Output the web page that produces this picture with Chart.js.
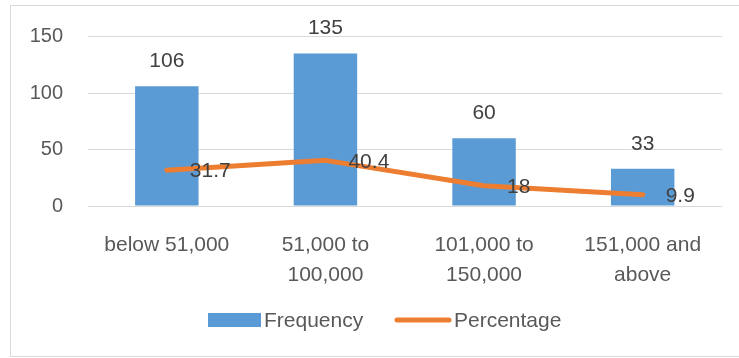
<!DOCTYPE html>
<html>
<head>
<meta charset="utf-8">
<script src="https://cdn.jsdelivr.net/npm/chart.js@4/dist/chart.umd.min.js"></script>
<style>
  html, body { margin: 0; padding: 0; background: #ffffff; }
  #wrap { position: relative; width: 739px; height: 358px; }
</style>
</head>
<body>
<div id="wrap"><canvas id="c" width="739" height="358"></canvas></div>
<script>
// Income brackets and the two series
const categories = [
  ["below 51,000"],
  ["51,000 to", "100,000"],
  ["101,000 to", "150,000"],
  ["151,000 and", "above"]
];
const frequency = [106, 135, 60, 33];
const percentage = [31.7, 40.4, 18, 9.9];
const yTicks = [0, 50, 100, 150];

const FONT = '"Liberation Sans", Arial, sans-serif';
const BLUE = '#5B9BD5';
const ORANGE = '#ED7D31';
const AXIS_TEXT = '#595959';
const LABEL_TEXT = '#404040';
const GRID = '#D9D9D9';

// Value labels: above each bar, to the right of each line point
const valueLabels = {
  id: 'valueLabels',
  afterDatasetsDraw(chart) {
    const ctx = chart.ctx;
    ctx.save();
    ctx.font = '21px ' + FONT;
    ctx.fillStyle = LABEL_TEXT;
    ctx.textBaseline = 'middle';
    chart.data.datasets.forEach((ds, di) => {
      const meta = chart.getDatasetMeta(di);
      meta.data.forEach((el, i) => {
        const text = String(ds.data[i]);
        if (ds.type === 'bar') {
          ctx.textAlign = 'center';
          ctx.fillText(text, el.x, el.y - 25);
        } else {
          ctx.textAlign = 'left';
          ctx.fillText(text, el.x + 23, el.y + 1.5);
        }
      });
    });
    ctx.restore();
  }
};

// Outer frame and legend row
const frameAndLegend = {
  id: 'frameAndLegend',
  beforeDraw(chart) {
    const ctx = chart.ctx;
    ctx.save();
    ctx.strokeStyle = GRID;
    ctx.lineWidth = 1;
    ctx.strokeRect(10.5, 5.5, 760, 351);
    ctx.restore();
  },
  afterDraw(chart) {
    const ctx = chart.ctx;
    const ds = chart.data.datasets;
    const cy = 320;
    ctx.save();
    ctx.font = '21px ' + FONT;
    ctx.textBaseline = 'middle';
    ctx.textAlign = 'left';
    // bar swatch
    ctx.fillStyle = BLUE;
    ctx.fillRect(208, cy - 7, 53, 14);
    ctx.fillStyle = AXIS_TEXT;
    ctx.fillText(ds[0].label, 264, cy + 1);
    // line swatch
    ctx.strokeStyle = ORANGE;
    ctx.lineWidth = 5;
    ctx.lineCap = 'round';
    ctx.beginPath();
    ctx.moveTo(397, cy);
    ctx.lineTo(449, cy);
    ctx.stroke();
    ctx.fillText(ds[1].label, 454, cy + 1);
    ctx.restore();
  }
};

new Chart(document.getElementById('c'), {
  data: {
    labels: categories,
    datasets: [
      {
        type: 'bar',
        label: 'Frequency',
        data: frequency,
        backgroundColor: BLUE,
        borderWidth: 0,
        barPercentage: 0.4,
        categoryPercentage: 1.0,
        order: 1
      },
      {
        type: 'line',
        label: 'Percentage',
        data: percentage,
        borderColor: ORANGE,
        backgroundColor: ORANGE,
        borderWidth: 5,
        borderCapStyle: 'round',
        borderJoinStyle: 'round',
        pointRadius: 0,
        tension: 0,
        order: 0
      }
    ]
  },
  options: {
    responsive: false,
    animation: false,
    layout: { padding: { top: 35, left: 20, right: 17, bottom: 0 } },
    plugins: {
      legend: { display: false },
      tooltip: { enabled: false }
    },
    scales: {
      x: {
        grid: { display: false },
        border: { display: false },
        ticks: {
          color: AXIS_TEXT,
          font: { family: FONT, size: 21, lineHeight: '30px' },
          padding: 16,
          maxRotation: 0,
          autoSkip: false
        },
        afterFit(scale) { scale.height = 152; }
      },
      y: {
        min: 0,
        max: 150,
        afterBuildTicks(scale) { scale.ticks = yTicks.map(v => ({ value: v })); },
        grid: { color: GRID, lineWidth: 1, drawTicks: false },
        border: { display: false },
        ticks: {
          color: AXIS_TEXT,
          font: { family: FONT, size: 20 },
          padding: 24.5
        },
        afterFit(scale) { scale.width = 67.5; }
      }
    }
  },
  plugins: [valueLabels, frameAndLegend]
});
</script>
</body>
</html>
